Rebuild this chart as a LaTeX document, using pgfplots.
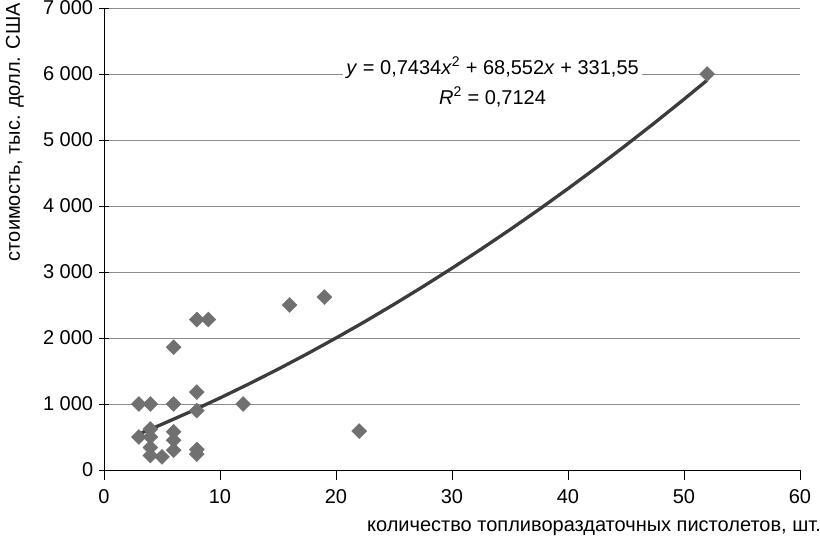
\documentclass[border=0pt]{standalone}
\usepackage{fontspec}
\setmainfont{Liberation Sans}
\usepackage{pgfplots}
\pgfplotsset{compat=1.18}
\definecolor{mk}{RGB}{112,112,112}
\definecolor{tl}{RGB}{60,60,60}
\definecolor{gr}{RGB}{140,140,140}
\begin{document}
\fontsize{20}{24}\selectfont
\begin{tikzpicture}[x=1pt,y=1pt]
\useasboundingbox (-104,-76) rectangle (716,470);
\begin{axis}[
  at={(0,0)}, anchor=origin,
  scale only axis, width=696pt, height=462pt,
  xmin=0, xmax=60, ymin=0, ymax=7000,
  xtick={0,10,...,60}, ytick={0,1000,...,7000},
  axis x line*=bottom, axis y line*=left,
  xtick align=outside, ytick align=center,
  major tick length=10pt,
  tick style={black, line width=0.8pt},
  axis line style={black, line width=0.8pt},
  ymajorgrids, grid style={gr, line width=0.8pt},
  /pgf/number format/assume math mode=true,
  /pgf/number format/1000 sep={\ },
  ticklabel style={font=\fontsize{20}{24}\selectfont},
  yticklabel style={xshift=1pt},
  xticklabel style={yshift=-3pt},
  clip=false,
]
\addplot[only marks, mark=square*, mark size=5.3pt, mark options={rotate=45, fill=mk, draw=mk}] coordinates {
(3,1000) (4,1000) (6,1000) (3,500) (4,620) (4,500) (4,340) (4,220) (5,200)
(6,580) (6,450) (6,300) (6,1860) (8,2280) (9,2280) (8,1180) (8,900)
(8,310) (8,240) (12,1000) (16,2500) (19,2620) (22,590) (52,6000)
};
\addplot[tl, line width=3.3pt] coordinates {
(3,543.9) (5,692.9) (7.5,887.4) (10,1091.4) (12.5,1304.7) (15,1527.1) (17.5,1758.6) (20,1999.9)
(22.5,2249.5) (25,2510.0) (27.5,2778.7) (30,3057.2) (32.5,3344.9) (35,3641.5) (37.5,3947.4)
(40,4263.1) (42.5,4587.6) (45,4921.8) (47.5,5264.9) (50,5617.7) (52,5906.4)
};
\node[fill=white, inner sep=3pt, align=center, font=\fontsize{20}{30}\selectfont] at (axis cs:33.5,5880)
  {\textit{y} = 0,7434\textit{x}\textsuperscript{2} + 68,552\textit{x} + 331,55\\ \textit{R}\textsuperscript{2} = 0,7124};
\end{axis}
\node[rotate=90] at (-89,338) {стоимость, тыс. долл. США};
\node at (490,-58) {количество топливораздаточных пистолетов, шт.};
\end{tikzpicture}
\end{document}
